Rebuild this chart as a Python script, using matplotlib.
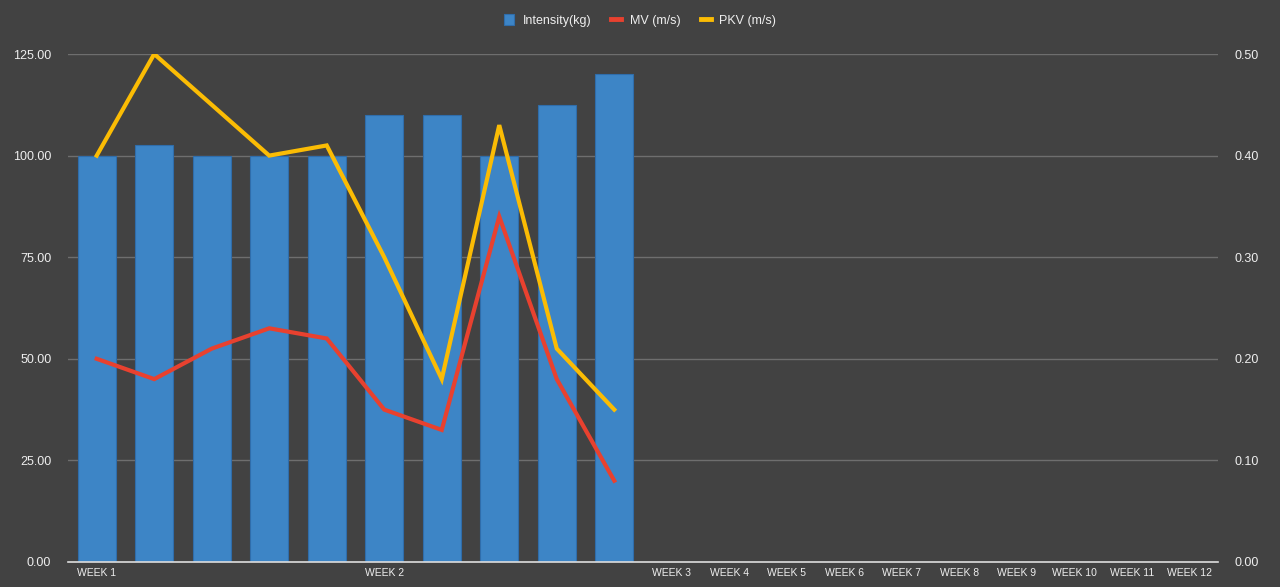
import matplotlib
matplotlib.use("Agg")
import matplotlib.pyplot as plt
from matplotlib.ticker import FormatStrFormatter

# Data
labels = ["WEEK 1", "", "", "", "", "WEEK 2", "", "", "", "",
          "WEEK 3", "WEEK 4", "WEEK 5", "WEEK 6", "WEEK 7",
          "WEEK 8", "WEEK 9", "WEEK 10", "WEEK 11", "WEEK 12"]
intensity = [100, 102.5, 100, 100, 100, 110, 110, 100, 112.5, 120]
mv = [0.20, 0.18, 0.21, 0.23, 0.22, 0.15, 0.13, 0.34, 0.18, 0.08]
pkv = [0.40, 0.50, 0.45, 0.40, 0.41, 0.30, 0.18, 0.43, 0.21, 0.15]

bg = "#424242"
txt = "#eeeeee"
plt.rcParams["font.family"] = ["Liberation Sans", "DejaVu Sans"]

fig = plt.figure(figsize=(12.8, 5.87), dpi=100, facecolor=bg)
ax = fig.add_axes([0.0531, 0.0426, 0.8985, 0.8654], facecolor=bg)
ax2 = ax.twinx()

x = list(range(len(labels)))
xb = x[:len(intensity)]

# Bars on left axis
ax.bar(xb, intensity, width=0.66, color="#3d85c6", edgecolor="#2f6dab",
       linewidth=0.8, zorder=2, label="Intensity(kg)")

# Lines on right axis
ax2.plot(xb, mv, color="#e8412f", linewidth=3, solid_joinstyle="miter",
         label="MV (m/s)", zorder=3)
ax2.plot(xb, pkv, color="#fbbc04", linewidth=3, solid_joinstyle="miter",
         label="PKV (m/s)", zorder=3)

ax.set_xlim(-0.5, len(labels) - 0.5)
ax.set_ylim(0, 125)
ax2.set_ylim(0, 0.5)
ax.set_yticks([0, 25, 50, 75, 100, 125])
ax2.set_yticks([0, 0.1, 0.2, 0.3, 0.4, 0.5])
ax.yaxis.set_major_formatter(FormatStrFormatter("%.2f"))
ax2.yaxis.set_major_formatter(FormatStrFormatter("%.2f"))
ax.set_xticks(x)
ax.set_xticklabels(labels)

ax.grid(axis="y", color="#6e6e6e", linewidth=1, zorder=0)
ax.set_axisbelow(True)
for a in (ax, ax2):
    for s in a.spines.values():
        s.set_visible(False)
ax.spines["bottom"].set_visible(True)
ax.spines["bottom"].set_color("#dddddd")
ax.spines["bottom"].set_linewidth(1.2)
ax.spines["bottom"].set_zorder(4)

ax.tick_params(axis="y", length=0, pad=16, labelsize=9, labelcolor=txt)
ax2.tick_params(axis="y", length=0, pad=16, labelsize=9, labelcolor=txt)
ax.tick_params(axis="x", length=0, pad=4, labelsize=7.5, labelcolor=txt)
ax.tick_params(axis="y", pad=12)
ax2.tick_params(axis="y", pad=12)

# Legend on top
h1, l1 = ax.get_legend_handles_labels()
h2, l2 = ax2.get_legend_handles_labels()
leg = fig.legend(h1 + h2, l1 + l2, loc="center", bbox_to_anchor=(0.5, 0.965),
                 ncol=3, frameon=False, fontsize=9, labelcolor=txt,
                 handlelength=0.8, handleheight=0.9, handletextpad=0.7,
                 columnspacing=1.6)
for line in leg.get_lines():
    line.set_linewidth(3.5)

fig.savefig("out.png", dpi=100, facecolor=bg)
